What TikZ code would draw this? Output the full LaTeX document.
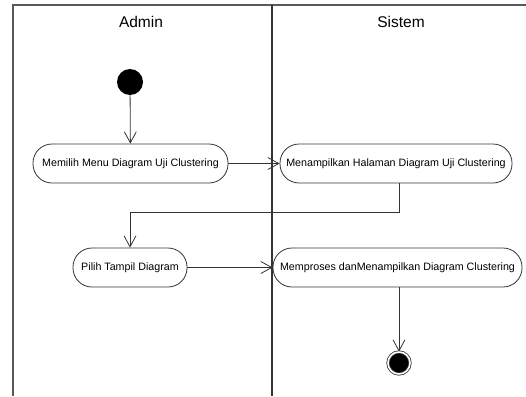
\documentclass[tikz,border=0pt]{standalone}
\usepackage{fontspec}
\setmainfont{Liberation Sans}
\usetikzlibrary{arrows.meta}
\begin{document}
\begin{tikzpicture}[x=1pt,y=-1pt,
  frame/.style={draw=black!65, line width=1.1pt},
  lane/.style={font=\fontsize{15.5}{18}\selectfont},
  action/.style={draw=black!80, line width=0.8pt, rounded corners=19pt,
    minimum height=39pt, inner sep=2pt, font=\fontsize{10.7}{12}\selectfont},
  flow/.style={draw=black!80, line width=0.8pt, -{Straight Barb[length=11pt,width=12pt,line width=0.8pt]}},
  startnode/.style={circle, fill=black, minimum size=26pt, inner sep=0pt},
  endnode/.style={circle, draw=black!80, line width=0.8pt, fill=black, double=white, double distance=1.6pt, minimum size=22pt, inner sep=0pt}
]
\useasboundingbox (0,0) rectangle (526,396);

% swimlane frame
\draw[frame] (13,396) -- (13,5) -- (526,5);
\draw[frame, draw=black!80, line width=1.4pt] (272,5) -- (272,396);
\node[lane] (admin) at (141,22) {Admin};
\node[lane] (sistem) at (401,22) {Sistem};

% activities
\node[startnode] (start) at (130,82) {};
\node[action, minimum width=195pt] (a1) at (130.5,163.5) {Memilih Menu Diagram Uji Clustering};
\node[action, minimum width=232pt] (a2) at (396,163.5) {Menampilkan Halaman Diagram Uji Clustering};
\node[action, minimum width=114pt] (a3) at (130,267.5) {Pilih Tampil Diagram};
\node[action, minimum width=249pt] (a4) at (397.5,267.5) {Memproses danMenampilkan Diagram Clustering};
\node[endnode] (stop) at (399,363) {};

% transitions
\draw[flow] (start) -- (a1);
\draw[flow] (a1) -- (a2);
\draw[flow] (a2.south -| 399,0) |- (130,212) -- (a3.north);
\draw[flow] (a3) -- (a4);
\draw[flow] (a4.south -| 399,0) -- (stop);
\end{tikzpicture}
\end{document}
